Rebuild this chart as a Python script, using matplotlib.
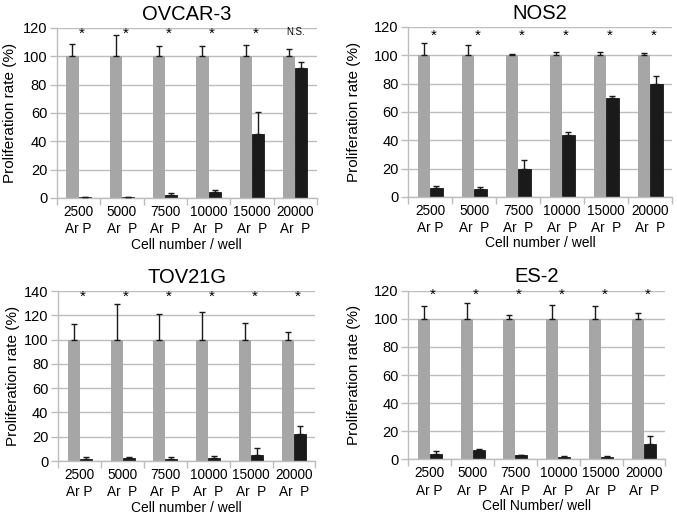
import numpy as np
import matplotlib
matplotlib.use("Agg")
import matplotlib.pyplot as plt
from matplotlib.ticker import FixedLocator, MultipleLocator

plt.rcParams['font.family'] = ['Liberation Sans', 'DejaVu Sans']

cells = ["2500", "5000", "7500", "10000", "15000", "20000"]

# OVCAR-3
ovcar_ar = [100, 100, 100, 100, 100, 100]
ovcar_ar_err = [9, 15, 7, 7, 8, 5.5]
ovcar_p = [0.5, 0.3, 2, 4.5, 45, 92]
ovcar_p_err = [0.3, 0.2, 1.5, 1, 16, 4]
ovcar_sig = ["*", "*", "*", "*", "*", "N.S."]

# NOS2
nos_ar = [100, 100, 100, 100, 100, 100]
nos_ar_err = [9, 7, 1, 2.5, 2.5, 1.5]
nos_p = [6.5, 5.5, 20, 43.5, 70, 80]
nos_p_err = [1, 1.5, 6, 2, 1.5, 5.5]
nos_sig = ["*"] * 6

# TOV21G
tov_ar = [100, 100, 100, 100, 100, 100]
tov_ar_err = [12.5, 29.5, 21.5, 23, 13.5, 6]
tov_p = [1.5, 2.5, 2, 2.5, 5, 22]
tov_p_err = [1.5, 1, 1, 1.5, 5.5, 6.5]
tov_sig = ["*"] * 6

# ES-2
es_ar = [100, 100, 100, 100, 100, 100]
es_ar_err = [9, 11.5, 3, 9.5, 9, 4]
es_p = [4, 6.5, 3, 2, 2, 11]
es_p_err = [2, 1, 0.5, 0.5, 0.5, 6]
es_sig = ["*"] * 6

panels = [
    ("OVCAR-3", ovcar_ar, ovcar_ar_err, ovcar_p, ovcar_p_err, ovcar_sig, 120, 116, "Cell number / well",
     [0.084, 0.618, 0.384, 0.328], -0.154),
    ("NOS2", nos_ar, nos_ar_err, nos_p, nos_p_err, nos_sig, 120, 114, "Cell number / well",
     [0.603, 0.620, 0.390, 0.328], -0.178),
    ("TOV21G", tov_ar, tov_ar_err, tov_p, tov_p_err, tov_sig, 140, 135, "Cell number / well",
     [0.086, 0.110, 0.380, 0.328], -0.148),
    ("ES-2", es_ar, es_ar_err, es_p, es_p_err, es_sig, 120, 117, "Cell Number/ well",
     [0.603, 0.113, 0.380, 0.326], -0.183),
]

fig = plt.figure(figsize=(6.77, 5.18), dpi=100)
grid_col = "#bdbdbd"
w = 0.28

for title, ar, ar_err, p, p_err, sig, ymax, sig_y, xlab, rect, ylab_x in panels:
    ax = fig.add_axes(rect)
    x = np.arange(len(cells))
    ax.bar(x - w / 2, ar, w, color="#a6a6a6", zorder=2,
           yerr=[np.zeros(len(ar)), ar_err], capsize=2.5,
           error_kw=dict(ecolor="#1a1a1a", elinewidth=1.0, capthick=1.0, zorder=3))
    ax.bar(x + w / 2, p, w, color="#1a1a1a", edgecolor="#000000", linewidth=0.5, zorder=2,
           yerr=[np.zeros(len(p)), p_err], capsize=2.5,
           error_kw=dict(ecolor="#1a1a1a", elinewidth=1.0, capthick=1.0, zorder=3))
    for i, s in enumerate(sig):
        if s == "*":
            ax.text(i + 0.08, sig_y, s, ha="center", va="center", fontsize=11)
        else:
            ax.text(i, sig_y + 1, s, ha="center", va="center", fontsize=7)

    ax.set_xlim(-0.5, len(cells) - 0.5)
    ax.set_ylim(0, ymax)
    ax.yaxis.set_major_locator(MultipleLocator(20))
    ax.yaxis.grid(True, color=grid_col, linewidth=1.0, zorder=0)
    ax.set_axisbelow(True)

    labels = [c + ("\nAr P" if i == 0 else "\nAr  P") for i, c in enumerate(cells)]
    ax.set_xticks(x)
    ax.set_xticklabels(labels, fontsize=9.8, linespacing=1.3)
    ax.xaxis.set_minor_locator(FixedLocator(np.arange(-0.5, len(cells), 1.0)))
    ax.tick_params(axis="x", which="major", length=0, pad=5)
    ax.tick_params(axis="x", which="minor", length=5, color=grid_col, width=1.0)
    ax.tick_params(axis="y", length=5, color=grid_col, width=1.0, labelsize=10.5, pad=2)

    for side in ["top", "right"]:
        ax.spines[side].set_visible(False)
    for side in ["left", "bottom"]:
        ax.spines[side].set_color(grid_col)
        ax.spines[side].set_linewidth(1.0)

    ax.set_title(title, fontsize=14.5, pad=6)
    ax.set_ylabel("Proliferation rate (%)", fontsize=11)
    ax.yaxis.set_label_coords(ylab_x, 0.5)
    ax.set_xlabel(xlab, fontsize=10, labelpad=1)

fig.savefig("out.png", dpi=100)
